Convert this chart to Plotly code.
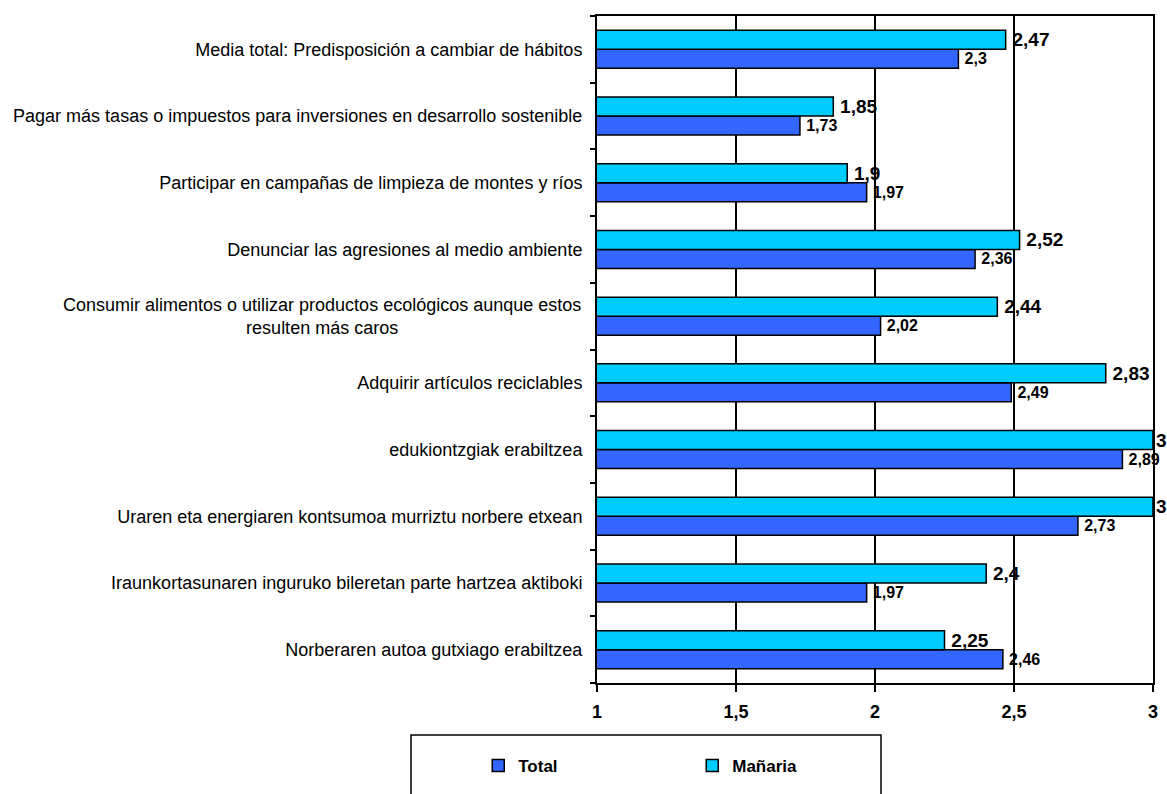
import plotly.graph_objects as go

categories = [
    "Media total: Predisposición a cambiar de hábitos",
    "Pagar más tasas o impuestos para inversiones en desarrollo sostenible",
    "Participar en campañas de limpieza de montes y ríos",
    "Denunciar las agresiones al medio ambiente",
    "Consumir alimentos o utilizar productos ecológicos aunque estos<br>resulten más caros",
    "Adquirir artículos reciclables",
    "edukiontzgiak erabiltzea",
    "Uraren eta energiaren kontsumoa murriztu norbere etxean",
    "Iraunkortasunaren inguruko bileretan parte hartzea aktiboki",
    "Norberaren autoa gutxiago erabiltzea",
]
total = [2.3, 1.73, 1.97, 2.36, 2.02, 2.49, 2.89, 2.73, 1.97, 2.46]
manaria = [2.47, 1.85, 1.9, 2.52, 2.44, 2.83, 3, 3, 2.4, 2.25]
x_ticks = [1, 1.5, 2, 2.5, 3]
x_tick_labels = ["1", "1,5", "2", "2,5", "3"]
x_max = 3

# plotly draws the first category at the bottom, so reverse to keep the reference order
cats = categories[::-1]
tot = total[::-1]
man = manaria[::-1]

FONT = "Liberation Sans, Arial, sans-serif"


def fmt(v):
    s = ("%g" % v).replace(".", ",")
    # labels of bars reaching the axis end sit tight against the frame
    return s if v >= x_max else "\u2009" + s


# category labels: multi-line ones are drawn as centred annotations
tick_text = [c if "<br>" not in c else "" for c in cats]

fig = go.Figure()
fig.add_trace(go.Bar(
    y=cats, x=tot, orientation="h", name="Total",
    marker=dict(color="#3366FF", line=dict(color="#000000", width=1.5)),
    text=[fmt(v) for v in tot], textposition="outside", constraintext="none",
    textfont=dict(family=FONT, size=16, color="#000000", weight="bold"),
    cliponaxis=False,
))
fig.add_trace(go.Bar(
    y=cats, x=man, orientation="h", name="Mañaria",
    marker=dict(color="#00CCFF", line=dict(color="#000000", width=1.5)),
    text=[fmt(v) for v in man], textposition="outside", constraintext="none",
    textfont=dict(family=FONT, size=19, color="#000000", weight="bold"),
    cliponaxis=False,
))

fig.update_layout(
    template="none",
    width=1167, height=794,
    margin=dict(l=597, r=14, t=16, b=111, autoexpand=False),
    paper_bgcolor="#FFFFFF", plot_bgcolor="#FFFFFF",
    barmode="group", bargap=0.43, bargroupgap=0,
    font=dict(family=FONT, color="#000000"),
    showlegend=True,
    legend=dict(
        orientation="h", x=-0.2136, y=-0.1244, xanchor="left", yanchor="middle",
        font=dict(size=17, weight="bold"), traceorder="normal",
        itemwidth=30, entrywidth=169, bgcolor="rgba(0,0,0,0)", borderwidth=0,
    ),
)
fig.update_xaxes(
    range=[1, 3], tickmode="array", tickvals=x_ticks, ticktext=x_tick_labels,
    showgrid=True, gridcolor="#000000", gridwidth=1.5,
    showline=True, linecolor="#000000", linewidth=2, mirror=True,
    ticks="outside", ticklen=7, tickwidth=2, tickcolor="#000000",
    tickfont=dict(size=18, weight="bold"), zeroline=False, ticklabelstandoff=4,
    automargin=False,
)
fig.update_yaxes(
    type="category", tickmode="array", tickvals=cats, ticktext=tick_text,
    showgrid=False, showline=True, linecolor="#000000", linewidth=2, mirror=True,
    ticks="outside", tickson="boundaries", ticklen=5, tickwidth=2, tickcolor="#000000",
    tickfont=dict(size=18), ticklabelstandoff=9, automargin=False,
)
for c in cats:
    if "<br>" in c:
        fig.add_annotation(
            x=0, xref="paper", y=c, yref="y", xanchor="right", yanchor="middle",
            xshift=-14, text=c, align="center", showarrow=False,
            font=dict(family=FONT, size=18, color="#000000"),
        )
# legend frame (extends past the bottom of the page as in the reference)
fig.add_shape(type="rect", xref="paper", yref="paper",
              x0=-0.3345, x1=0.5108, y0=-0.2, y1=-0.078,
              line=dict(color="#000000", width=1.5), fillcolor="rgba(0,0,0,0)", layer="above")

fig.write_html(
    "out.html",
    config={"displayModeBar": False},
    post_script="document.body.style.margin='0';document.body.style.overflow='hidden';",
)
